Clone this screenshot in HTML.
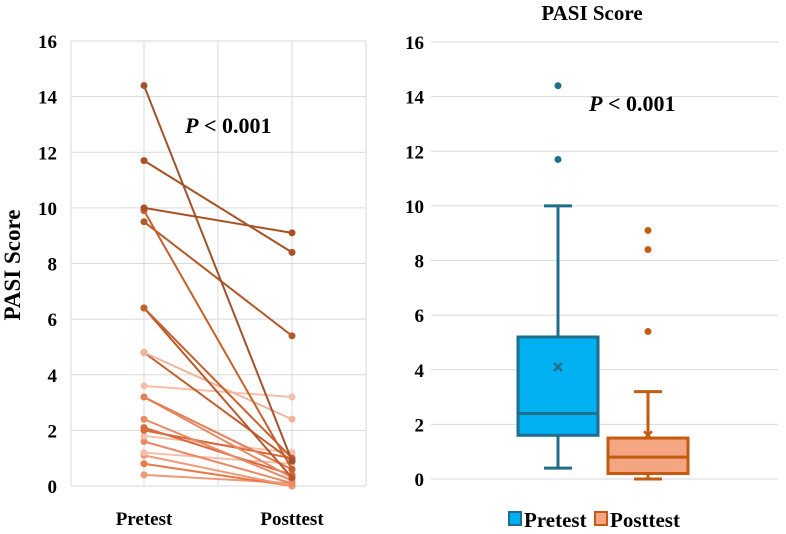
<!DOCTYPE html>
<html><head><meta charset="utf-8"><style>
body{margin:0;background:#fff;width:786px;height:529px;overflow:hidden}
svg text{font-family:"Liberation Serif",serif;font-weight:bold}
</style></head><body>
<svg width="786" height="529">
<g id="left"></g>
<g id="right"></g>
</svg>
<script>
const ticks=[0,2,4,6,8,10,12,14,16];
const groups=["Pretest","Posttest"];
const pre =[14.4,11.7,10.0,9.9,9.5,6.4,6.4,4.8,4.8,3.6,3.2,3.2,2.4,2.1,2.0,1.8,1.6,1.2,1.1,0.8,0.4];
const post=[0.9,8.4,9.1,0.6,5.4,1.0,0.3,2.4,0.9,3.2,0.6,0.3,0.2,0.4,1.0,1.2,0.1,0.8,0.0,0.0,0.1];
const lineColors=["#a0522d","#a85224","#a85224","#c8602c","#b05a2a","#c8602c","#b8582a","#f0b49c","#c06030","#f4c0aa","#e08058","#e88a64","#e88a64","#d86a3c","#d86a3c","#f4c0aa","#e88a64","#f4c0aa","#f09878","#e87a48","#f09878"];
const boxStats={pre:{min:0.4,q1:1.6,med:2.4,q3:5.2,max:10.0,mean:4.1,out:[11.7,14.4]},post:{min:0.0,q1:0.2,med:0.8,q3:1.5,max:3.2,mean:1.6,out:[5.4,8.4,9.1]}};
const NS="http://www.w3.org/2000/svg";
function mk(p,t,a,txt){const e=document.createElementNS(NS,t);for(const k in a)e.setAttribute(k,a[k]);if(txt!=null)e.textContent=txt;p.appendChild(e);return e;}
const L=document.getElementById('left'),R=document.getElementById('right');
const ly=v=>486-v*(445/16);const lx=[144,292];
for(const t of ticks){
 const g=mk(L,'line',{x1:71,x2:366,y1:ly(t),y2:ly(t),stroke:'#d9d9d9'});
 
 const tx=mk(L,'text',{x:57,y:ly(t)+7,'text-anchor':'end','font-size':19},t);
 
}
for(const x of [71,144,218,292,366]){const g=mk(L,'line',{x1:x,x2:x,y1:ly(16),y2:ly(0),stroke:'#d9d9d9'});}
groups.forEach((gname,i)=>{const t=mk(L,'text',{x:lx[i],y:525,'text-anchor':'middle','font-size':19},gname);});
const yt=mk(L,'text',{transform:'translate(20,265) rotate(-90)','text-anchor':'middle','font-size':23},'PASI Score');

const p1=mk(L,'text',{x:185,y:133,'font-size':22},'');p1.innerHTML='<tspan font-style="italic">P</tspan> &lt; 0.001';

for(let i=pre.length-1;i>=0;i--){
 const c=lineColors[i];
 const l=mk(L,'line',{x1:lx[0],y1:ly(pre[i]),x2:lx[1],y2:ly(post[i]),stroke:c,'stroke-width':2});
 
 const a=mk(L,'circle',{cx:lx[0],cy:ly(pre[i]),r:3.5,fill:c});
 const b=mk(L,'circle',{cx:lx[1],cy:ly(post[i]),r:3.5,fill:c});
}
const ry=v=>479-v*(437/16);
for(const t of ticks){
 const g=mk(R,'line',{x1:431,x2:778,y1:ry(t),y2:ry(t),stroke:'#d9d9d9'});
 
 const tx=mk(R,'text',{x:424,y:ry(t)+7,'text-anchor':'end','font-size':19},t);
 
}
const ttl=mk(R,'text',{x:592,y:20,'text-anchor':'middle','font-size':21},'PASI Score');

const p2=mk(R,'text',{x:589,y:111,'font-size':22},'');p2.innerHTML='<tspan font-style="italic">P</tspan> &lt; 0.001';

function box(s,cx,fill,stroke,name){
 const g=mk(R,'g',{});
 mk(g,'line',{x1:cx,x2:cx,y1:ry(s.max),y2:ry(s.q3),stroke,'stroke-width':3});
 mk(g,'line',{x1:cx,x2:cx,y1:ry(s.q1),y2:ry(s.min),stroke,'stroke-width':3});
 mk(g,'line',{x1:cx-14,x2:cx+14,y1:ry(s.max),y2:ry(s.max),stroke,'stroke-width':3});
 mk(g,'line',{x1:cx-14,x2:cx+14,y1:ry(s.min),y2:ry(s.min),stroke,'stroke-width':3});
 mk(g,'rect',{x:cx-40,y:ry(s.q3),width:80,height:ry(s.q1)-ry(s.q3),fill,stroke,'stroke-width':3});
 mk(g,'line',{x1:cx-40,x2:cx+40,y1:ry(s.med),y2:ry(s.med),stroke,'stroke-width':3});
 const m=ry(s.mean);
 mk(g,'path',{d:`M${cx-4},${m-4}L${cx+4},${m+4}M${cx+4},${m-4}L${cx-4},${m+4}`,stroke,'stroke-width':2.5});
 for(const o of s.out){const c=mk(g,'circle',{cx,cy:ry(o),r:3.5,fill:stroke});}
}
box(boxStats.pre,558,'#00b0f0','#1f6e8c','pretest-box');
box(boxStats.post,648,'#f4a582','#c55a11','posttest-box');
const lg=mk(R,'g',{});
mk(lg,'rect',{x:509,y:512,width:12,height:13,fill:'#00b0f0',stroke:'#1f6e8c','stroke-width':2});
mk(lg,'text',{x:524,y:527,'font-size':21},'Pretest');
mk(lg,'rect',{x:595,y:512,width:12,height:13,fill:'#f4a582',stroke:'#c55a11','stroke-width':2});
mk(lg,'text',{x:610,y:527,'font-size':21},'Posttest');
</script>
</body></html>
